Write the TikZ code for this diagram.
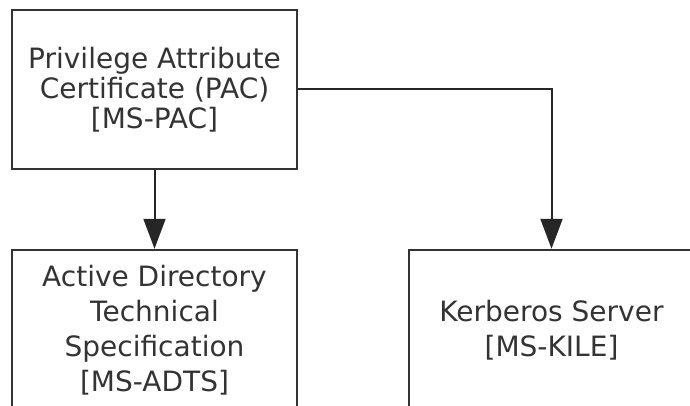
\documentclass[tikz,border=0pt]{standalone}
\usepackage{fontspec}
\setmainfont{DejaVu Sans}
\usetikzlibrary{
  arrows.meta,
}

\begin{document}
\begin{tikzpicture}[
    x=1pt, y=-1pt,
    box/.style={draw=black!80, line width=2.5pt, rectangle, align=center,
        minimum width=285pt, minimum height=159pt, inner sep=0pt,
        text=black!80},
    topf/.style={font=\fontsize{28}{30}\selectfont},
    botf/.style={font=\fontsize{28}{35}\selectfont},
    arr/.style={line width=2pt, black!85, -{Triangle[length=30pt, width=22pt]}},
  ]
  \clip (0,0) rectangle (690,406);
  \node[box, topf] (pac) at (154.5,89.5)
    {Privilege Attribute\\Certificate (PAC)\\{[MS-PAC]}};
  \node[box, botf, minimum height=160pt] (adts) at (154.5,330)
    {Active Directory\\Technical\\Specification\\{[MS-ADTS]}};
  \node[box, botf, minimum height=160pt] (kile) at (551.5,330)
    {Kerberos Server\\{[MS-KILE]}};
  \draw[arr] (pac) -- (adts);
  \draw[arr] (pac.east) -| (kile.north);
\end{tikzpicture}
\end{document}
